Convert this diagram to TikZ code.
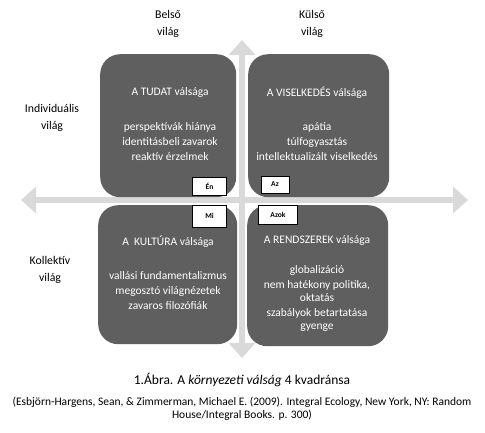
\documentclass[tikz,border=0pt]{standalone}
\usepackage{fontspec}
\setmainfont{Carlito}
\usetikzlibrary{arrows.meta}

\definecolor{axisgray}{RGB}{217,217,217}
\definecolor{boxgray}{RGB}{95,95,95}

\begin{document}
\begin{tikzpicture}[x=1pt,y=-1pt,
  axis/.style={axisgray,line width=6pt,
    {Triangle[width=26pt,length=15pt]}-{Triangle[width=26pt,length=15pt]}},
  quad/.style={fill=boxgray,rounded corners=20pt,anchor=north west,inner sep=0pt},
  intext/.style={white,align=center,font=\fontsize{11.5}{15}\selectfont},
  tag/.style={draw=black,fill=white,inner sep=0pt,font=\bfseries\fontsize{7.5}{8}\selectfont},
  side/.style={align=center,font=\fontsize{11.8}{17}\selectfont}]

\useasboundingbox (0,0) rectangle (485,432);

% axes
\coordinate (N) at (242,40);
\coordinate (S) at (242,358);
\coordinate (W) at (21,200);
\coordinate (E) at (468,200);
\draw[axis] (S) -- (N);
\draw[axis] (W) -- (E);

% quadrants
\node[quad,minimum width=136pt,minimum height=143pt] (tl) at (100,54) {};
\node[quad,minimum width=141pt,minimum height=143pt] (tr) at (248,54) {};
\node[quad,minimum width=139pt,minimum height=139pt] (bl) at (98,205) {};
\node[quad,minimum width=141pt,minimum height=141pt] (br) at (247,205) {};

% texts in the quadrants
\node[intext] (tltitle) at (170,92) {A TUDAT válsága};
\node[intext] (tllist) at (170,142) {perspektívák hiánya\\identitásbeli zavarok\\reaktív érzelmek};

\node[intext] (trtitle) at (317,93) {A VISELKEDÉS válsága};
\node[intext] (trlist) at (317,142) {apátia\\túlfogyasztás\\intellektualizált viselkedés};

\node[intext] (bltitle) at (168,242) {A\ \ KULTÚRA válsága};
\node[intext] (bllist) at (168,291) {vallási fundamentalizmus\\megosztó világnézetek\\zavaros filozófiák};

\node[intext] (brtitle) at (317,240) {A RENDSZEREK válsága};
\node[intext,font=\fontsize{11.5}{13}\selectfont] (brlist) at (317,298.5)
  {globalizáció\\[2pt]nem hatékony politika,\\oktatás\\[2pt]szabályok betartatása\\gyenge};

% tags
\node[tag,minimum width=34pt,minimum height=18pt] (en) at (209.5,186) {Én};
\node[tag,minimum width=28pt,minimum height=17pt] (az) at (275,184.5) {Az};
\node[tag,minimum width=34pt,minimum height=22pt] (mi) at (209.5,216) {Mi};
\node[tag,minimum width=39pt,minimum height=19pt] (azok) at (278,214.5) {Azok};

% side labels
\node[side] (belso) at (168,23.5) {Belső\\világ};
\node[side] (kulso) at (312,23.5) {Külső\\világ};
\node[side] (indiv) at (52,118) {Individuális\\világ};
\node[side] (koll) at (50,270) {Kollektív\\világ};

% caption
\node[font=\fontsize{13.5}{15}\selectfont] (caption) at (242,380)
  {1.Ábra. A \textit{környezeti válság} 4 kvadránsa};
\node[align=center,font=\fontsize{11.5}{12.5}\selectfont] (source) at (242,409)
  {(Esbjörn-Hargens, Sean, \& Zimmerman, Michael E. (2009). Integral Ecology, New York, NY: Random\\House/Integral Books. p. 300)};

\end{tikzpicture}
\end{document}
